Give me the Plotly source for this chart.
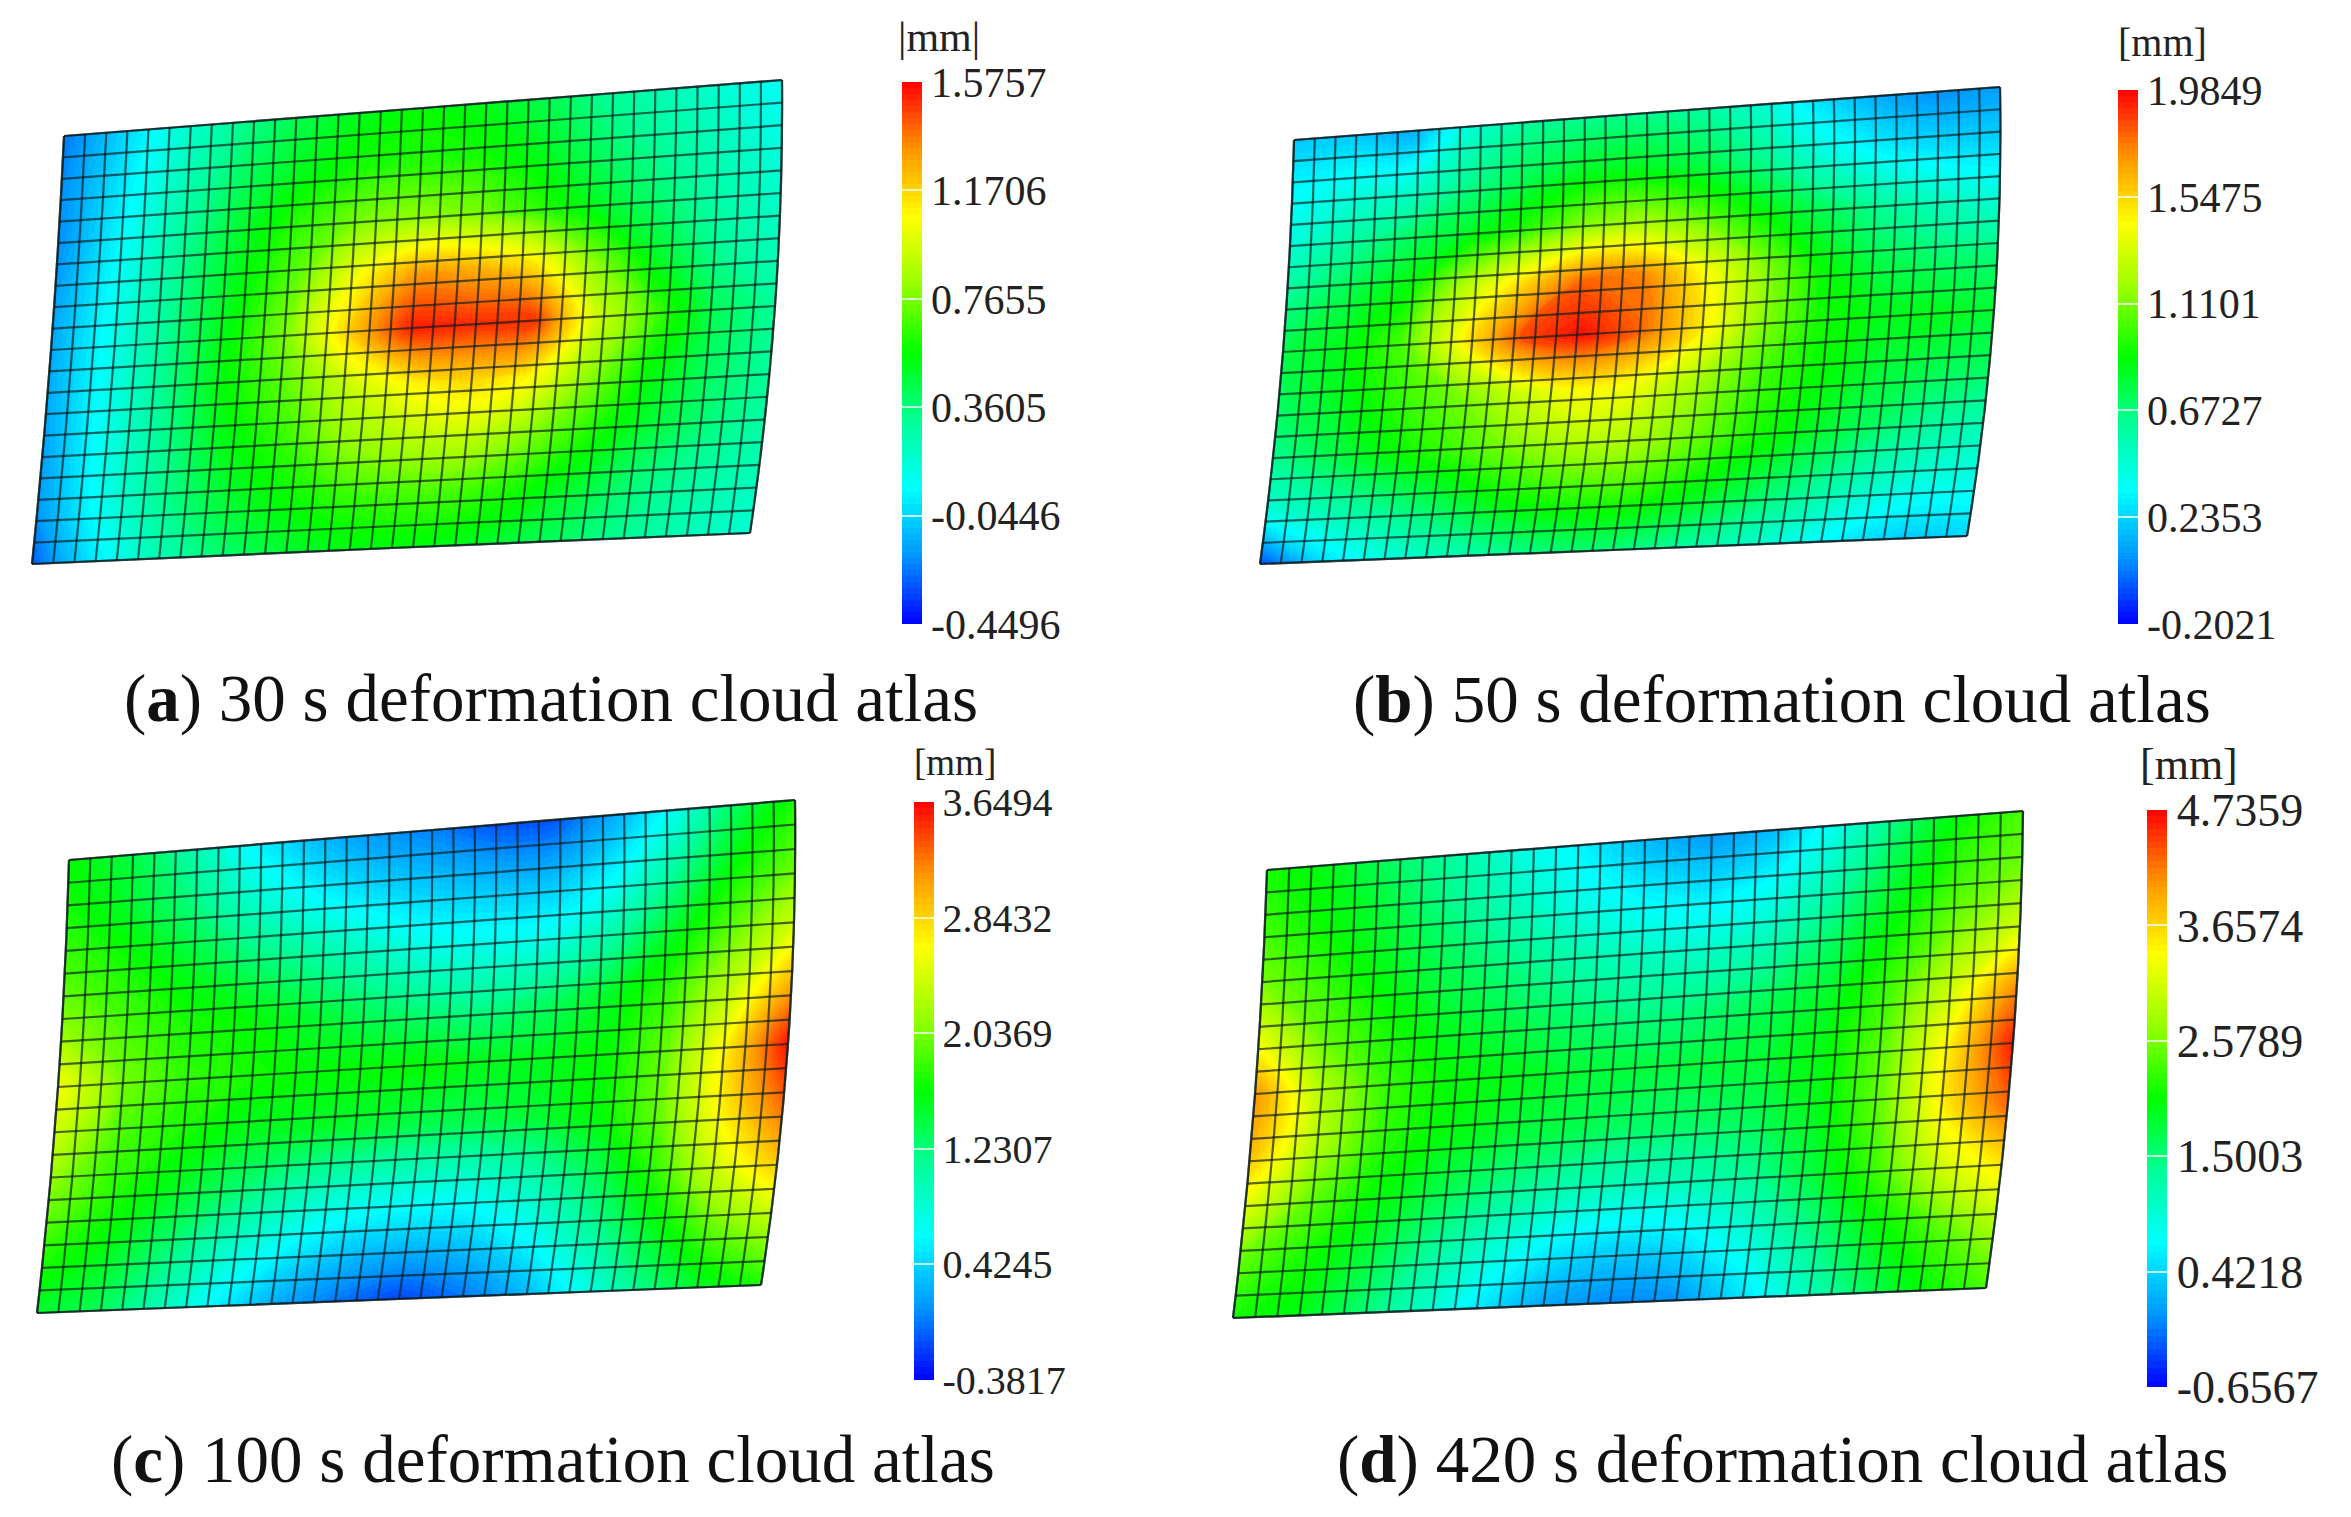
import plotly.graph_objects as go

W, H = 2351, 1517
FONT = "Liberation Serif"

# mesh of the plate: number of cells
n_cols, n_rows = 34, 20

# colour map of the FE post-processor
jet = [[0, "rgb(0,0,255)"], [0.125, "rgb(0,150,255)"], [0.25, "rgb(0,255,255)"],
       [0.375, "rgb(0,255,150)"], [0.5, "rgb(0,255,0)"], [0.625, "rgb(150,255,0)"],
       [0.75, "rgb(255,255,0)"], [0.875, "rgb(255,150,0)"], [1, "rgb(255,0,0)"]]

# deformation, mm (13 columns x 9 rows, top row first)
z_a = [
    [-0.25, -0.05, 0.16, 0.32, 0.44, 0.52, 0.56, 0.52, 0.44, 0.32, 0.24, 0.16, 0.08],
    [-0.21, 0.00, 0.22, 0.40, 0.52, 0.60, 0.62, 0.60, 0.52, 0.40, 0.30, 0.22, 0.12],
    [-0.21, 0.04, 0.28, 0.48, 0.64, 0.77, 0.81, 0.77, 0.64, 0.50, 0.38, 0.26, 0.18],
    [-0.17, 0.08, 0.32, 0.52, 0.72, 1.05, 1.30, 1.27, 1.13, 0.78, 0.50, 0.32, 0.22],
    [-0.15, 0.10, 0.34, 0.56, 0.80, 1.20, 1.53, 1.51, 1.51, 0.97, 0.68, 0.42, 0.30],
    [-0.15, 0.10, 0.34, 0.56, 0.72, 0.93, 1.09, 1.17, 1.09, 0.81, 0.56, 0.40, 0.30],
    [-0.17, 0.10, 0.32, 0.52, 0.64, 0.81, 0.89, 0.93, 0.81, 0.64, 0.48, 0.36, 0.28],
    [-0.19, 0.08, 0.30, 0.46, 0.56, 0.64, 0.68, 0.68, 0.60, 0.48, 0.36, 0.28, 0.22],
    [-0.29, 0.00, 0.22, 0.36, 0.46, 0.52, 0.54, 0.52, 0.46, 0.38, 0.30, 0.22, 0.16],
]
z_b = [
    [0.20, 0.20, 0.13, 0.45, 0.61, 0.63, 0.63, 0.59, 0.45, 0.25, 0.12, 0.06, 0.10],
    [0.34, 0.41, 0.45, 0.63, 0.74, 0.83, 0.83, 0.76, 0.63, 0.44, 0.32, 0.26, 0.24],
    [0.45, 0.59, 0.72, 0.83, 0.98, 1.15, 1.20, 1.07, 0.89, 0.74, 0.61, 0.52, 0.45],
    [0.63, 0.76, 0.89, 1.25, 1.55, 1.80, 1.75, 1.45, 1.15, 0.89, 0.76, 0.70, 0.68],
    [0.76, 0.85, 1.02, 1.45, 1.85, 1.96, 1.80, 1.50, 1.15, 0.93, 0.85, 0.85, 0.80],
    [0.72, 0.83, 0.98, 1.10, 1.30, 1.45, 1.40, 1.20, 1.02, 0.90, 0.80, 0.75, 0.72],
    [0.63, 0.76, 0.89, 1.00, 1.12, 1.22, 1.22, 1.10, 0.95, 0.83, 0.72, 0.61, 0.54],
    [0.45, 0.56, 0.65, 0.76, 0.89, 0.96, 0.98, 0.89, 0.78, 0.65, 0.52, 0.43, 0.41],
    [-0.07, 0.24, 0.41, 0.52, 0.61, 0.67, 0.67, 0.61, 0.52, 0.41, 0.28, 0.21, 0.24],
]
z_c = [
    [1.63, 1.43, 1.05, 0.60, 0.32, 0.14, 0.05, -0.10, -0.10, 0.22, 0.70, 1.31, 1.72],
    [1.72, 1.51, 1.25, 0.90, 0.65, 0.48, 0.38, 0.33, 0.33, 0.60, 1.10, 1.63, 1.96],
    [1.88, 1.72, 1.51, 1.28, 1.10, 0.92, 0.75, 0.72, 0.75, 1.05, 1.51, 1.95, 2.40],
    [2.12, 1.88, 1.72, 1.63, 1.48, 1.32, 1.20, 1.15, 1.30, 1.51, 1.82, 2.32, 3.05],
    [2.60, 2.04, 1.80, 1.72, 1.63, 1.63, 1.63, 1.55, 1.55, 1.63, 1.98, 2.72, 3.60],
    [2.36, 1.88, 1.72, 1.55, 1.51, 1.47, 1.39, 1.39, 1.47, 1.63, 2.00, 2.72, 3.30],
    [2.04, 1.76, 1.51, 1.28, 1.05, 0.90, 0.85, 0.85, 1.02, 1.35, 1.80, 2.42, 2.90],
    [1.76, 1.55, 1.25, 0.90, 0.62, 0.42, 0.35, 0.40, 0.65, 1.07, 1.50, 1.95, 2.25],
    [1.47, 1.35, 0.98, 0.55, 0.20, 0.00, -0.15, 0.00, 0.25, 0.70, 1.18, 1.51, 1.72],
]
z_d = [
    [2.14, 1.93, 1.60, 1.28, 0.90, 0.60, 0.25, 0.05, 0.25, 0.80, 1.50, 2.05, 2.36],
    [2.30, 2.04, 1.77, 1.44, 1.12, 0.85, 0.65, 0.55, 0.74, 1.20, 1.80, 2.30, 2.57],
    [2.57, 2.25, 1.93, 1.66, 1.44, 1.23, 1.08, 1.03, 1.20, 1.60, 2.09, 2.60, 3.11],
    [3.22, 2.47, 2.14, 1.87, 1.71, 1.55, 1.44, 1.50, 1.66, 1.87, 2.35, 3.10, 4.08],
    [4.08, 2.90, 2.30, 2.04, 1.93, 1.82, 1.77, 1.77, 1.82, 1.98, 2.50, 3.50, 4.62],
    [3.87, 2.90, 2.25, 1.98, 1.82, 1.71, 1.60, 1.60, 1.66, 1.93, 2.50, 3.50, 4.30],
    [3.22, 2.47, 2.04, 1.72, 1.42, 1.22, 1.12, 1.15, 1.35, 1.77, 2.30, 3.05, 3.54],
    [2.47, 2.14, 1.78, 1.35, 0.95, 0.60, 0.45, 0.55, 0.90, 1.40, 1.93, 2.36, 2.84],
    [2.14, 1.95, 1.55, 1.05, 0.50, 0.10, -0.05, 0.00, 0.45, 1.05, 1.60, 2.04, 2.36],
]

# colour bar tick labels
ticks_a = ["1.5757", "1.1706", "0.7655", "0.3605", "-0.0446", "-0.4496"]
ticks_b = ["1.9849", "1.5475", "1.1101", "0.6727", "0.2353", "-0.2021"]
ticks_c = ["3.6494", "2.8432", "2.0369", "1.2307", "0.4245", "-0.3817"]
ticks_d = ["4.7359", "3.6574", "2.5789", "1.5003", "0.4218", "-0.6567"]

# outline of each plate on the page: top, middle, bottom rows of left/centre/right
plate_x_a = [[64, 423, 782], [51, 412, 775], [32, 392, 750]]
plate_y_a = [[136, 108, 80], [350, 328, 306], [564, 548, 533]]
plate_x_b = [[1294, 1647, 2000], [1283, 1640, 1994], [1260, 1613, 1967]]
plate_y_b = [[140, 113, 87], [352, 331, 310], [564, 550, 536]]
plate_x_c = [[69, 432, 795], [58, 425, 788], [37, 399, 761]]
plate_y_c = [[860, 830, 800], [1087, 1065, 1044], [1313, 1299, 1285]]
plate_x_d = [[1267, 1645, 2023], [1255, 1635, 2013], [1233, 1610, 1986]]
plate_y_d = [[870, 840, 811], [1094, 1068, 1043], [1318, 1303, 1288]]

panels = [
    dict(z=z_a, ticks=ticks_a, px=plate_x_a, py=plate_y_a, bar=(902, 82, 624), unit="|mm|",
         unit_xy=(939, 37), unit_size=42, tick_size=42, cap="(<b>a</b>) 30 s deformation cloud atlas", cap_xy=(551, 698)),
    dict(z=z_b, ticks=ticks_b, px=plate_x_b, py=plate_y_b, bar=(2118, 90, 624), unit="[mm]",
         unit_xy=(2162, 42), unit_size=40, tick_size=42, cap="(<b>b</b>) 50 s deformation cloud atlas", cap_xy=(1782, 699)),
    dict(z=z_c, ticks=ticks_c, px=plate_x_c, py=plate_y_c, bar=(914, 802, 1380), unit="[mm]",
         unit_xy=(955, 762), unit_size=37, tick_size=40, cap="(<b>c</b>) 100 s deformation cloud atlas", cap_xy=(553, 1459)),
    dict(z=z_d, ticks=ticks_d, px=plate_x_d, py=plate_y_d, bar=(2147, 810, 1387), unit="[mm]",
         unit_xy=(2189, 764), unit_size=44, tick_size=46, cap="(<b>d</b>) 420 s deformation cloud atlas", cap_xy=(1782, 1459)),
]

fig = go.Figure()
notes = []
mesh_color = "rgba(10,30,30,0.68)"

for i, p in enumerate(panels):
    cid = f"plate{i}"
    vals = [float(t) for t in p["ticks"]]
    vmax, vmin = vals[0], vals[-1]
    bar_x, bar_top, bar_bottom = p["bar"]

    axis_style = dict(tickmode="linear", dtick=1, showticklabels="none", gridcolor=mesh_color,
                      gridwidth=2.2, startline=True, endline=True, startlinecolor=mesh_color,
                      endlinecolor=mesh_color, minorgridcount=0, smoothing=1, showline=False)
    fig.add_trace(go.Carpet(
        carpet=cid,
        a=[0, n_cols / 2, n_cols],
        b=[0, n_rows / 2, n_rows],
        x=p["px"],
        y=p["py"],
        aaxis=axis_style,
        baxis=axis_style,
    ))
    fig.add_trace(go.Contourcarpet(
        carpet=cid,
        a=[n_cols * k / 12 for k in range(13)],
        b=[n_rows * k / 8 for k in range(9)],
        z=p["z"],
        colorscale=jet,
        zmin=vmin,
        zmax=vmax,
        autocontour=False,
        contours=dict(start=vmin, end=vmax, size=(vmax - vmin) / 90, coloring="fill"),
        line=dict(width=0, smoothing=1),
        colorbar=dict(
            x=bar_x / W, xanchor="left", xpad=0,
            y=1 - bar_bottom / H, yanchor="bottom", ypad=0,
            len=bar_bottom - bar_top, lenmode="pixels",
            thickness=20, thicknessmode="pixels",
            outlinewidth=0,
            tickmode="array",
            tickvals=vals,
            ticktext=p["ticks"],
            ticks="inside",
            ticklen=20,
            tickwidth=2,
            tickcolor="rgba(255,255,255,0.75)",
            tickfont=dict(family=FONT, size=p["tick_size"], color="#222222"),
        ),
    ))

    notes.append(dict(x=p["unit_xy"][0], y=p["unit_xy"][1], text=p["unit"], showarrow=False,
                      font=dict(family=FONT, size=p["unit_size"], color="#222222")))
    notes.append(dict(x=p["cap_xy"][0], y=p["cap_xy"][1], text=p["cap"], showarrow=False,
                      font=dict(family=FONT, size=67, color="#111111")))

fig.update_layout(
    width=W,
    height=H,
    margin=dict(l=0, r=0, t=0, b=0),
    paper_bgcolor="white",
    plot_bgcolor="white",
    showlegend=False,
    xaxis=dict(range=[0, W], visible=False, domain=[0, 1]),
    yaxis=dict(range=[H, 0], visible=False, domain=[0, 1]),
    annotations=notes,
)

# drop the browser's default page margin so page pixels line up with the axes
fig.write_html("out.html", config=dict(displayModeBar=False),
               post_script="document.body.style.margin='0';")
